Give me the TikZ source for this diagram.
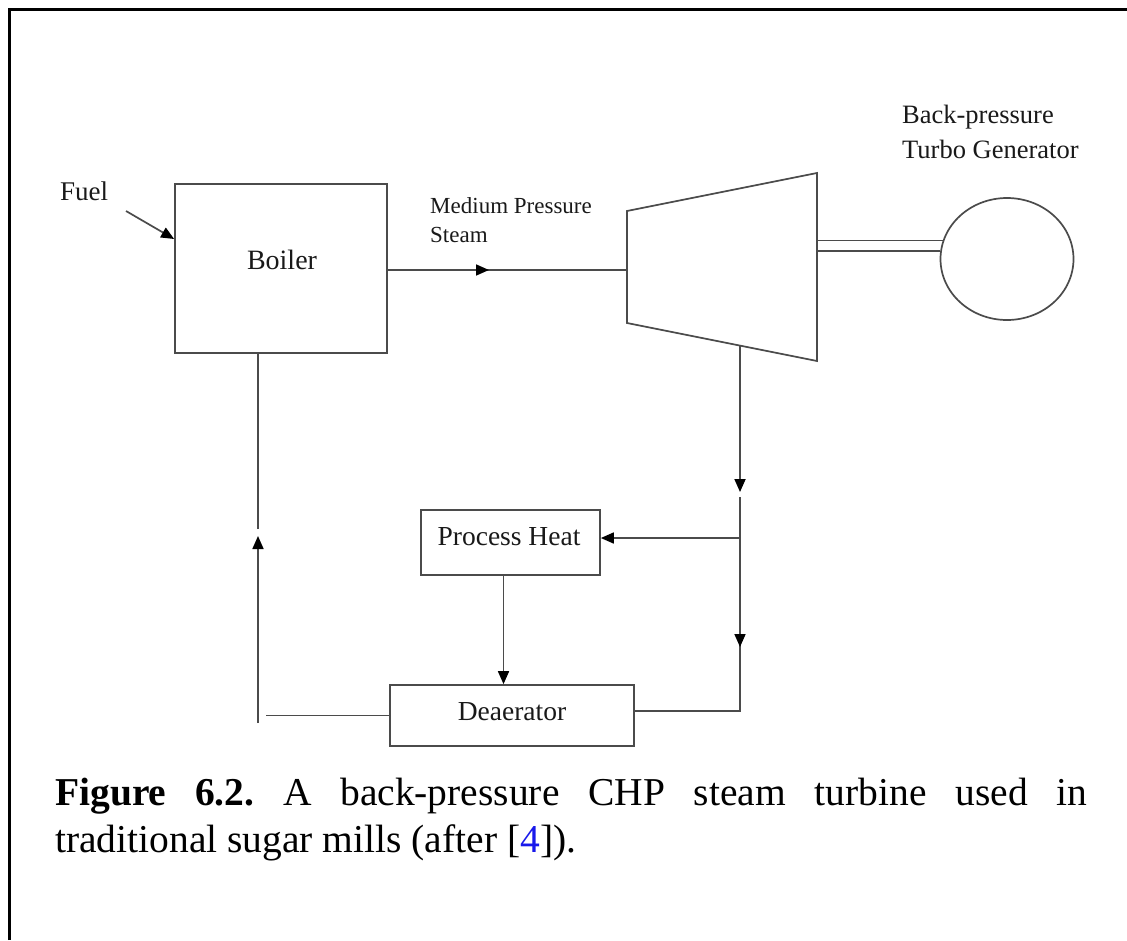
\documentclass[tikz,border=0pt]{standalone}
\usepackage{fontspec}
\setmainfont{Liberation Serif}
\usetikzlibrary{arrows.meta,shapes.geometric,calc}
\definecolor{linegray}{RGB}{75,75,75}
\definecolor{reflink}{RGB}{25,25,235}

\begin{document}
\frenchspacing
\begin{tikzpicture}[x=1pt,y=-1pt,
  wire/.style={draw=linegray,line width=1.7pt},
  flow/.style={wire,-{Triangle[length=13pt,width=11pt,color=black]}},
  box/.style={wire,rectangle,inner sep=0pt},
  lbl/.style={inner sep=0pt,anchor=base,text=black!90,font=\fontsize{27.5}{32}\selectfont},
  lbll/.style={lbl,anchor=base west},
  captext/.style={inner sep=0pt,anchor=base west,font=\fontsize{39.5}{47}\selectfont},
]
\useasboundingbox (0,0) rectangle (1127,940);

% page frame
\draw[line width=3pt,black] (9.5,940) -- (9.5,9.5) -- (1127,9.5);

% boiler
\node[box,minimum width=212pt,minimum height=169pt] (boiler) at (281,268.5) {};
\node[lbl,font=\fontsize{28}{33}\selectfont] (boilertxt) at (282,269) {Boiler};

% fuel input
\node[lbll,font=\fontsize{27}{32}\selectfont] (fuel) at (60,200) {Fuel};
\coordinate (fuelin) at (126,211);
\draw[flow] (fuelin) -- ([yshift=29.5pt]boiler.west);

% steam turbine (trapezium)
\coordinate (t1) at (627,211);
\coordinate (t2) at (817,173);
\coordinate (t3) at (817,361);
\coordinate (t4) at (627,323);
\draw[wire] (t1) -- (t2) -- (t3) -- (t4) -- cycle;
\coordinate (tin) at (627,270);
\coordinate (tout) at ($(t4)!0.595!(t3)$);

% generator and shaft
\node[wire,ellipse,minimum width=133pt,minimum height=122pt,inner sep=0pt] (gen) at (1007,259) {};
\draw[wire] (gen.164) -- (gen.164 -| t2);
\draw[wire] (gen.173) -- (gen.173 -| t2);
\node[lbll,font=\fontsize{26.5}{31}\selectfont] (bp1) at (902,123) {Back-pressure};
\node[lbll,font=\fontsize{26.5}{31}\selectfont] (bp2) at (902,158) {Turbo Generator};

% medium pressure steam line
\node[lbll,font=\fontsize{23}{27}\selectfont] (mps1) at (430,213) {Medium Pressure};
\node[lbll,font=\fontsize{23}{27}\selectfont] (mps2) at (430,242) {Steam};
\coordinate (steamtip) at (489,270);
\draw[wire] (boiler.east |- tin) -- (tin);
\draw[flow] (boiler.east |- tin) -- (steamtip);

% process heat and deaerator
\node[box,minimum width=179pt,minimum height=65pt] (ph) at (510.5,542.5) {};
\node[lbl] (phtxt) at (509,545) {Process Heat};
\node[box,minimum width=244pt,minimum height=61pt] (dea) at (512,715.5) {};
\node[lbl] (deatxt) at (512,720) {Deaerator};

% exhaust steam
\coordinate (drop1) at (740,492);
\coordinate (tap) at (740,497);
\coordinate (split) at (740,538);
\coordinate (drop2) at (740,647);
\coordinate (corner) at (740,711);
\draw[flow] (tout) -- (drop1);
\draw[wire] (tap) -- (corner) -- (corner -| dea.east);
\draw[flow] (split) -- (drop2);
\draw[flow] (split) -- (split -| ph.east);

% condensate from process heat
\coordinate (phout) at ([xshift=-7pt]ph.south);
\draw[flow] (phout) -- (phout |- dea.north);

% feedwater return to boiler
\coordinate (retend) at (266,715.5);
\coordinate (retbot) at (258,723);
\coordinate (rettip) at (258,536);
\coordinate (rettop) at (258,529);
\draw[wire] (dea.west) -- (retend);
\draw[flow] (retbot) -- (rettip);
\draw[wire] (rettop) -- (rettop |- boiler.south);

% caption
\node[captext] (cap1) at (55,805) {\makebox[1032pt][s]{\textbf{Figure 6.2.} A back-pressure CHP steam turbine used in}};
\node[captext] (cap2) at (55,852) {traditional sugar mills (after [\textcolor{reflink}{4}]).};
\end{tikzpicture}
\end{document}
